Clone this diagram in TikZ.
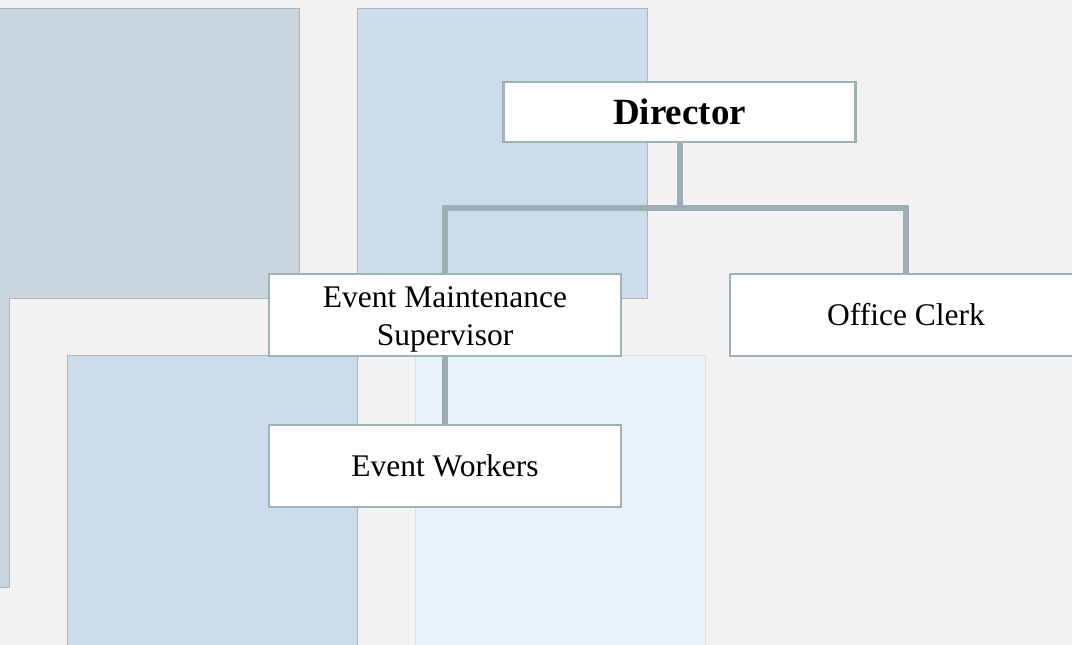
\documentclass[tikz,border=0pt]{standalone}
\usepackage{fontspec}
\setmainfont{Liberation Serif}
\definecolor{pagebg}{RGB}{242,242,242}
\definecolor{tilegray}{RGB}{203,213,223}
\definecolor{tileblue}{RGB}{204,220,235}
\definecolor{tilelight}{RGB}{234,241,249}
\definecolor{tileedge}{RGB}{170,182,192}
\definecolor{lightedge}{RGB}{215,222,228}
\definecolor{postedge}{RGB}{159,178,184}
\definecolor{linkcol}{RGB}{157,175,181}
\begin{document}
\begin{tikzpicture}[x=1pt,y=1pt,yscale=-1,xscale=1,
    tile/.style={draw=tileedge,line width=0.8pt},
    post/.style={draw=postedge,line width=2.4pt,fill=white,
        minimum width=352pt,inner sep=0pt,align=center,
        font=\fontsize{31.5}{38.5}\selectfont},
    link/.style={draw=linkcol,line width=6pt}]
        \useasboundingbox (0,0) rectangle (1072,645);
        \clip (0,0) rectangle (1072,645);
        %Shape: Background
        \fill[pagebg] (0,0) rectangle (1072,645);
        %Shape: Polygon (gray)
        \draw[tile,fill=tilegray] (-2,8) -- (299,8) -- (299,298) -- (9.5,298) -- (9.5,587) -- (-2,587) -- cycle;
        %Shape: Rectangle (blue, top)
        \draw[tile,fill=tileblue] (357,8) rectangle (647,298);
        %Shape: Rectangle (blue, bottom)
        \draw[tile,fill=tileblue] (67,355) rectangle (357,650);
        %Shape: Rectangle (light blue)
        \draw[tile,draw=lightedge,fill=tilelight] (415,355) rectangle (705,650);

        % Text Node
        \node[post,minimum height=60pt,font=\fontsize{37}{44}\selectfont\bfseries] (director) at (679.5,112) {Director};
        % Text Node
        \node[post,minimum height=82pt] (supervisor) at (445,315) {\rule{0pt}{30pt}Event Maintenance\\Supervisor};
        % Text Node
        \node[post,minimum height=82pt] (clerk) at (906,315) {Office Clerk};
        % Text Node
        \node[post,minimum height=82pt] (workers) at (445,466) {Event Workers};

        %Straight Lines
        \coordinate (split) at (679.5,208);
        \draw[link] (director.south) -- (split);
        \draw[link] (split) -| (supervisor.north);
        \draw[link] (split) -| (clerk.north);
        \draw[link] (supervisor.south) -- (workers.north);
\end{tikzpicture}
\end{document}
